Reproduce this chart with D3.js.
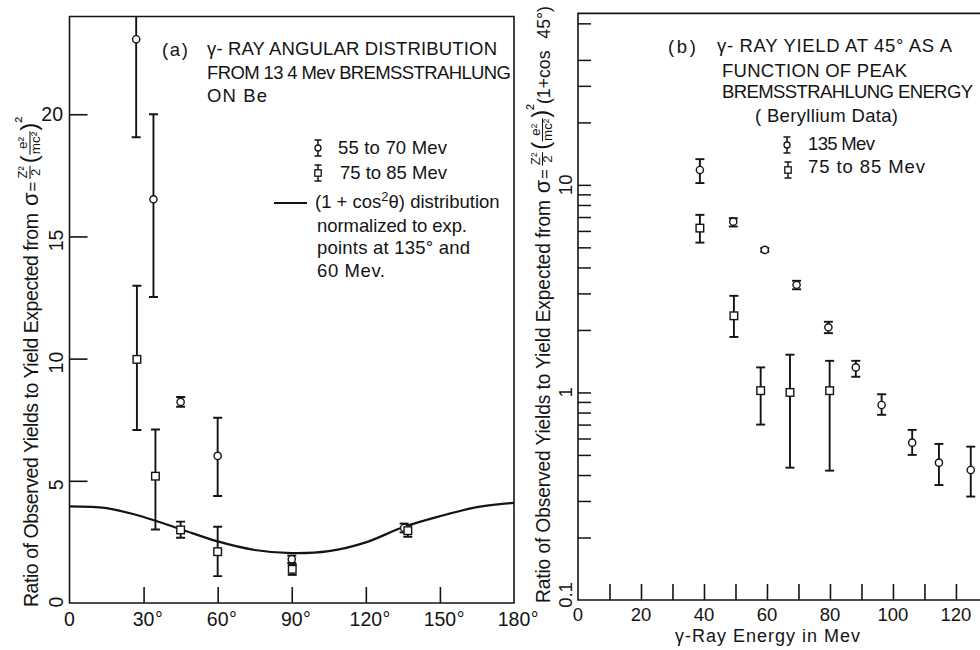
<!DOCTYPE html>
<html>
<head>
<meta charset="utf-8">
<script src="https://cdn.jsdelivr.net/npm/d3@7"></script>
<style>
  body { margin: 0; background: #fff; }
  text { font-family: "Liberation Sans", Arial, sans-serif; fill: #141414; }
</style>
</head>
<body>
<svg id="chart" width="980" height="650"></svg>
<script>
// ---- Panel (a): angular distribution from 134 Mev bremsstrahlung on Be ----
const angleTicks = [30, 60, 90, 120, 150];
const angleLabelValues = [0, 30, 60, 90, 120, 150, 180];
const angleLabels = ["0", "30", "60", "90", "120", "150", "180"];
const ratioTicksA = [5, 10, 15, 20];
const ratioLabelsA = ["0", "5", "10", "15", "20"];
const ratioLabelValuesA = [0, 5, 10, 15, 20];

// 55 to 70 Mev (circles)
const lowAngle = [27, 34, 45, 60, 90, 135.5];
const lowRatio = [23.07, 16.52, 8.23, 6.02, 1.79, 3.07];
const lowLo    = [19.06, 12.52, 8.03, 4.38, 1.64, 2.89];
const lowHi    = [27.0, 20.0, 8.43, 7.58, 1.94, 3.25];

// 75 to 85 Mev (squares)
const highAngle = [27.3, 34.8, 45, 60, 90.2, 137];
const highRatio = [9.97, 5.19, 2.99, 2.10, 1.38, 2.96];
const highLo    = [7.08, 3.01, 2.67, 1.10, 1.15, 2.71];
const highHi    = [12.98, 7.10, 3.33, 3.12, 1.58, 3.19];

// (1 + cos^2 theta) curve, normalized
const curveAngle = [0, 15, 30, 45, 60, 75, 90, 105, 120, 135, 150, 165, 180];
const curveRatio = [3.95, 3.88, 3.52, 3.02, 2.52, 2.17, 2.04, 2.12, 2.48, 3.1, 3.55, 3.92, 4.1];

// ---- Panel (b): yield at 45 degrees vs peak bremsstrahlung energy ----
const energyTicks = [10, 20, 30, 40, 50, 60, 70, 80, 90, 100, 110, 120];
const energyLabels = [0, 20, 40, 60, 80, 100, 120];
const yieldTicks = [0.2, 0.3, 0.4, 0.5, 0.6, 0.7, 0.8, 0.9, 1, 2, 3, 4, 5, 6, 7, 8, 9, 10, 20, 30, 40, 60];
const yieldLabelValues = [0.1, 1, 10];
const yieldLabels = ["0.1", "1", "10"];

// 135 Mev (circles)
const e135 = [38.7, 49.3, 59.3, 69.4, 79.5, 88.2, 96.4, 106.1, 114.6, 124.7];
const y135 = [11.8, 6.65, 4.86, 3.30, 2.06, 1.32, 0.87, 0.573, 0.459, 0.423];
const lo135 = [10.2, 6.30, 4.76, 3.14, 1.93, 1.19, 0.78, 0.50, 0.358, 0.315];
const hi135 = [13.3, 6.91, 4.96, 3.45, 2.19, 1.42, 0.98, 0.66, 0.565, 0.548];

// 75 to 85 Mev (squares)
const e80 = [38.7, 49.5, 58.0, 67.3, 79.9];
const y80 = [6.19, 2.34, 1.02, 1.0, 1.02];
const lo80 = [5.27, 1.85, 0.70, 0.434, 0.42];
const hi80 = [7.17, 2.92, 1.32, 1.52, 1.42];

const ink = "#141414";
const svg = d3.select("#chart");

// ---------- helpers ----------
function errorBars(g, xs, ys, lo, hi, x, y) {
  const cap = 4.5;
  xs.forEach((xv, i) => {
    const cx = x(xv), y1 = y(lo[i]), y2 = y(hi[i]);
    g.append("line").attr("x1", cx).attr("x2", cx).attr("y1", y1).attr("y2", y2)
      .attr("stroke", ink).attr("stroke-width", 1.9);
    [y1, y2].forEach(yy => g.append("line")
      .attr("x1", cx - cap).attr("x2", cx + cap).attr("y1", yy).attr("y2", yy)
      .attr("stroke", ink).attr("stroke-width", 1.9));
  });
}
function circles(g, xs, ys, x, y) {
  g.selectAll(null).data(xs).enter().append("circle")
    .attr("cx", d => x(d)).attr("cy", (d, i) => y(ys[i])).attr("r", 3.6)
    .attr("fill", "#fff").attr("stroke", ink).attr("stroke-width", 1.4);
}
function squares(g, xs, ys, x, y) {
  const s = 7.6;
  g.selectAll(null).data(xs).enter().append("rect")
    .attr("x", d => x(d) - s / 2).attr("y", (d, i) => y(ys[i]) - s / 2)
    .attr("width", s).attr("height", s)
    .attr("fill", "#fff").attr("stroke", ink).attr("stroke-width", 1.4);
}
function label(x, y, str, size, len, anchor) {
  const t = svg.append("text").attr("x", x).attr("y", y).attr("font-size", size)
    .attr("text-anchor", anchor || "start").text(str);
  if (len) t.attr("textLength", len);
  return t;
}
function legendIcon(cx, cy, kind) {
  const g = svg.append("g");
  g.append("line").attr("x1", cx).attr("x2", cx).attr("y1", cy - 8).attr("y2", cy + 8)
    .attr("stroke", ink).attr("stroke-width", 1.5);
  [cy - 8, cy + 8].forEach(yy => g.append("line").attr("x1", cx - 3.5).attr("x2", cx + 3.5)
    .attr("y1", yy).attr("y2", yy).attr("stroke", ink).attr("stroke-width", 1.5));
  if (kind === "c") g.append("circle").attr("cx", cx).attr("cy", cy).attr("r", 3)
    .attr("fill", "#fff").attr("stroke", ink).attr("stroke-width", 1.3);
  else g.append("rect").attr("x", cx - 3.2).attr("y", cy - 3.2).attr("width", 6.4).attr("height", 6.4)
    .attr("fill", "#fff").attr("stroke", ink).attr("stroke-width", 1.3);
}
// rotated axis title built piece by piece (text runs along +x in the rotated frame);
// the whole run is squeezed along its length if it would exceed maxLen
function rotatedTitle(px, py, mainText, mainLen, maxLen, tail) {
  const outer = svg.append("g").attr("transform", `translate(${px},${py}) rotate(-90)`);
  const g = outer.append("g");
  g.append("text").attr("x", 0).attr("y", 0).attr("font-size", 19.5)
    .attr("textLength", mainLen).text(mainText);
  let cur = mainLen + 7;
  tail.forEach(p => {
    if (p.frac) {
      const n = g.append("text").attr("font-size", p.size).attr("text-anchor", "middle").text(p.num);
      const d = g.append("text").attr("font-size", p.size).attr("text-anchor", "middle").text(p.den);
      const w = Math.max(n.node().getComputedTextLength(), d.node().getComputedTextLength());
      n.attr("x", cur + w / 2).attr("y", -10.5);
      d.attr("x", cur + w / 2).attr("y", 2);
      g.append("line").attr("x1", cur - 0.5).attr("x2", cur + w + 0.5).attr("y1", -7.5).attr("y2", -7.5)
        .attr("stroke", ink).attr("stroke-width", 1.1);
      cur += w + (p.gap || 1.5);
    } else {
      const t = g.append("text").attr("x", cur).attr("y", p.dy || 0).attr("font-size", p.size).text(p.t);
      cur += t.node().getComputedTextLength() + (p.gap || 0);
    }
  });
  if (cur > maxLen) g.attr("transform", `scale(${maxLen / cur},1)`);
}

// ================= Panel (a) =================
const xA = d3.scaleLinear().domain([0, 180]).range([69.5, 514]);
const yA = d3.scaleLinear().domain([0, 24]).range([603, 16.5]);

svg.append("clipPath").attr("id", "clipA").append("rect")
  .attr("x", 69.5).attr("y", 16.5).attr("width", 514 - 69.5).attr("height", 603 - 16.5);

// frame
svg.append("path").attr("d", `M${xA(0)},${yA(0)} V${yA(24)} H${xA(180)} V${yA(0)} Z`)
  .attr("fill", "none").attr("stroke", ink).attr("stroke-width", 1.6);

// inward ticks
svg.append("g").attr("transform", `translate(0,${yA(0)})`)
  .call(d3.axisBottom(xA).tickValues(angleTicks).tickSize(-16).tickSizeOuter(0).tickFormat(""))
  .call(g => g.select(".domain").remove())
  .call(g => g.selectAll("line").attr("stroke", ink).attr("stroke-width", 1.6));
svg.append("g").attr("transform", `translate(${xA(0)},0)`)
  .call(d3.axisLeft(yA).tickValues(ratioTicksA).tickSize(-18).tickSizeOuter(0).tickFormat(""))
  .call(g => g.select(".domain").remove())
  .call(g => g.selectAll("line").attr("stroke", ink).attr("stroke-width", 1.6));

// x tick labels (degree sign follows the centred number)
angleLabelValues.forEach((v, i) => {
  const t = label(xA(v), 626, angleLabels[i], 19.5, null, "middle");
  if (v > 0) {
    const w = t.node().getComputedTextLength();
    label(xA(v) + w / 2 + 0.5, 626, "°", 19.5);
  }
});
// y tick labels
ratioLabelValuesA.forEach((v, i) => {
  if (v === 20) { label(63, yA(v) + 7, ratioLabelsA[i], 19.5, null, "end"); return; }
  const yy = v === 0 ? yA(v) - 1 : yA(v) + 4;
  svg.append("text").attr("transform", `translate(63,${yy}) rotate(-90)`)
    .attr("font-size", 19.5).attr("text-anchor", "middle").text(ratioLabelsA[i]);
});

// curve and data
const plotA = svg.append("g").attr("clip-path", "url(#clipA)");
plotA.append("path")
  .datum(curveAngle.map((a, i) => [a, curveRatio[i]]))
  .attr("d", d3.line().x(d => xA(d[0])).y(d => yA(d[1])).curve(d3.curveCatmullRom))
  .attr("fill", "none").attr("stroke", ink).attr("stroke-width", 2.2);
errorBars(plotA, lowAngle, lowRatio, lowLo, lowHi, xA, yA);
errorBars(plotA, highAngle, highRatio, highLo, highHi, xA, yA);
circles(plotA, lowAngle, lowRatio, xA, yA);
squares(plotA, highAngle, highRatio, xA, yA);

// title and legend
label(162, 56, "(a)", 18.5, 26);
label(207, 55, "γ- RAY  ANGULAR  DISTRIBUTION", 18.5, 290);
label(207, 79, "FROM  13 4 Mev BREMSSTRAHLUNG", 18.5, 304);
label(207, 102, "ON   Be", 18.5, 60);
legendIcon(318, 148, "c");
label(338, 154, "55 to 70 Mev", 18.5, 109);
legendIcon(318, 173, "s");
label(340, 179, "75 to 85 Mev", 18.5, 107);
svg.append("line").attr("x1", 274).attr("x2", 307).attr("y1", 203).attr("y2", 203)
  .attr("stroke", ink).attr("stroke-width", 2);
const cosT = svg.append("text").attr("x", 315).attr("y", 208).attr("font-size", 18.5);
cosT.append("tspan").text("(1 + cos");
cosT.append("tspan").attr("font-size", 13).attr("dy", -7).text("2");
cosT.append("tspan").attr("dy", 7).text("θ) distribution");
label(317, 232, "normalized  to  exp.", 18.5, 150);
label(317, 254, "points  at  135°  and", 18.5, 153);
label(317, 277, "60 Mev.", 18.5, 68);

// y title
rotatedTitle(37.5, 607, "Ratio of Observed Yields to Yield Expected from", 394, 500, [
  { t: "σ", size: 22, gap: 1 },
  { t: "=", size: 17, gap: 3 },
  { frac: true, num: "Z²", den: "2", size: 13, gap: 3 },
  { t: "(", size: 24, dy: -1, gap: 1 },
  { frac: true, num: "e²", den: "mc²", size: 13.5, gap: 1 },
  { t: ")", size: 24, dy: -1, gap: 0 },
  { t: "²", size: 18, dy: -11 }
]);

// ================= Panel (b) =================
const xB = d3.scaleLinear().domain([0, 127]).range([578, 978]);
const yB = d3.scaleLog().domain([0.1, 67]).range([600, 13.4]);

svg.append("clipPath").attr("id", "clipB").append("rect")
  .attr("x", 578).attr("y", 13).attr("width", 402).attr("height", 587);

svg.append("path").attr("d", `M980,${yB(0.1)} H${xB(0)} V${yB(67)} H980`)
  .attr("fill", "none").attr("stroke", ink).attr("stroke-width", 1.6);

svg.append("g").attr("transform", `translate(0,${yB(0.1)})`)
  .call(d3.axisBottom(xB).tickValues(energyTicks).tickSize(-16).tickSizeOuter(0).tickFormat(""))
  .call(g => g.select(".domain").remove())
  .call(g => g.selectAll("line").attr("stroke", ink).attr("stroke-width", 1.6));
svg.append("g").attr("transform", `translate(${xB(0)},0)`)
  .call(d3.axisLeft(yB).tickValues(yieldTicks).tickSize(-13).tickSizeOuter(0).tickFormat(""))
  .call(g => g.select(".domain").remove())
  .call(g => g.selectAll("line").attr("stroke", ink).attr("stroke-width", 1.5));

energyLabels.forEach(v => label(xB(v), 621, String(v), 18.5, null, "middle"));
yieldLabelValues.forEach((v, i) => {
  const yy = v === 0.1 ? yB(v) - 5 : yB(v);
  svg.append("text").attr("transform", `translate(572,${yy}) rotate(-90)`)
    .attr("font-size", 18.5).attr("text-anchor", "middle").text(yieldLabels[i]);
});

const plotB = svg.append("g").attr("clip-path", "url(#clipB)");
errorBars(plotB, e135, y135, lo135, hi135, xB, yB);
errorBars(plotB, e80, y80, lo80, hi80, xB, yB);
circles(plotB, e135, y135, xB, yB);
squares(plotB, e80, y80, xB, yB);

label(668, 53, "(b)", 18.5, 28);
label(717, 52, "γ- RAY YIELD AT 45° AS A", 18.5, 235);
label(722, 77, "FUNCTION   OF PEAK", 18.5, 185);
label(722, 98, "BREMSSTRAHLUNG ENERGY", 18.5, 251);
label(755, 122, "( Beryllium  Data)", 18.5, 143);
legendIcon(787, 145, "c");
label(808, 150, "135 Mev", 18.5, 67);
legendIcon(788, 170, "s");
label(808, 173, "75 to 85 Mev", 18.5, 117);

label(675, 642, "γ-Ray Energy in Mev", 18, 185);

rotatedTitle(550, 603, "Ratio of Observed Yields to Yield Expected from", 410, 597, [
  { t: "σ", size: 22, gap: 1 },
  { t: "=", size: 17, gap: 4 },
  { frac: true, num: "Z²", den: "2", size: 13.5, gap: 3 },
  { t: "(", size: 24, dy: -1, gap: 1 },
  { frac: true, num: "e²", den: "mc²", size: 13.5, gap: 1 },
  { t: ")", size: 24, dy: -1, gap: 0 },
  { t: "²", size: 18, dy: -11, gap: 0 },
  { t: "(1+cos", size: 18, gap: 12 },
  { t: "45°)", size: 18 }
]);
</script>
</body>
</html>
